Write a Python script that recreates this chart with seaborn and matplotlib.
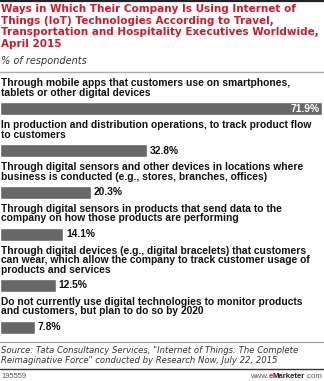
import matplotlib
matplotlib.use("Agg")
import matplotlib.pyplot as plt
import seaborn as sns
import pandas as pd
from matplotlib.lines import Line2D

categories = [
    "Through mobile apps that customers use on smartphones,\ntablets or other digital devices",
    "In production and distribution operations, to track product flow\nto customers",
    "Through digital sensors and other devices in locations where\nbusiness is conducted (e.g., stores, branches, offices)",
    "Through digital sensors in products that send data to the\ncompany on how those products are performing",
    "Through digital devices (e.g., digital bracelets) that customers\ncan wear, which allow the company to track customer usage of\nproducts and services",
    "Do not currently use digital technologies to monitor products\nand customers, but plan to do so by 2020",
]
values = [71.9, 32.8, 20.3, 14.1, 12.5, 7.8]
value_labels = ["71.9%", "32.8%", "20.3%", "14.1%", "12.5%", "7.8%"]

title = ("Ways in Which Their Company Is Using Internet of\n"
         "Things (IoT) Technologies According to Travel,\n"
         "Transportation and Hospitality Executives Worldwide,\n"
         "April 2015")
subtitle = "% of respondents"
source = ("Source: Tata Consultancy Services, \"Internet of Things: The Complete\n"
          "Reimaginative Force\" conducted by Research Now, July 22, 2015")
footer_id = "195559"

sns.set_theme(style="white")
plt.rcParams["font.family"] = ["DejaVu Sans"]

W, H = 324, 381
fig = plt.figure(figsize=(W / 100, H / 100), dpi=100)
fig.patch.set_facecolor("white")

def fy(py):
    return 1 - py / H

def fx(px):
    return px / W

RED = "#d7182a"
BAR = "#676767"
LAB_FONT = "Liberation Sans"
LAB_SIZE = 7.4

# borders
fig.add_artist(Line2D([0, 1], [fy(0.8), fy(0.8)], color="#222222", lw=1.6))
fig.add_artist(Line2D([0, 1], [fy(71.5), fy(71.5)], color="#aaaaaa", lw=1.0))
fig.add_artist(Line2D([0, 1], [fy(341.5), fy(341.5)], color="#999999", lw=0.8))
fig.add_artist(Line2D([0, 1], [fy(368.5), fy(368.5)], color="#333333", lw=1.0))

# title
fig.text(fx(1), fy(4), title, color=RED, fontsize=7.5, fontweight="bold",
         va="top", ha="left", linespacing=1.2)
fig.text(fx(1), fy(55.5), subtitle, color="#333333", fontsize=7.0, style="italic",
         va="top", ha="left")

# bars
line_h = 9.4
y = 78.5
max_v = max(values)
for i, (cat, val, lab) in enumerate(zip(categories, values, value_labels)):
    n = cat.count("\n") + 1
    fig.text(fx(1), fy(y), cat, fontsize=LAB_SIZE, fontweight="bold", color="#111111",
             family=LAB_FONT, va="top", ha="left", linespacing=0.93)
    bar_top = y + n * line_h + 5
    bar_h = 13
    ax = fig.add_axes([0, fy(bar_top + bar_h), 322 / W, bar_h / H])
    df = pd.DataFrame({"cat": [cat], "val": [val]})
    sns.barplot(data=df, x="val", y="cat", color=BAR, width=1.0, saturation=1,
                ax=ax, orient="h")
    ax.set_xlim(0, max_v)
    ax.set_axis_off()
    if val == max_v:
        ax.annotate(lab, xy=(val, 0), xytext=(-2, 0), textcoords="offset points",
                    ha="right", va="center", color="white", fontsize=LAB_SIZE,
                    fontweight="bold", family=LAB_FONT)
    else:
        ax.annotate(lab, xy=(val, 0), xytext=(2, 0), textcoords="offset points",
                    ha="left", va="center", color="#111111", fontsize=LAB_SIZE,
                    fontweight="bold", family=LAB_FONT)
    y = bar_top + bar_h + 5

# source
fig.text(fx(1), fy(346), source, color="#333333", fontsize=6.1, style="italic",
         va="top", ha="left", linespacing=1.15)
fig.text(fx(1), fy(376), footer_id, color="#555555", fontsize=5.4,
         family="Liberation Sans", va="center", ha="left")

# eMarketer footer, right aligned, built right to left
renderer = fig.canvas.get_renderer()
parts = [(".com", "#555555", "normal"), ("Marketer", "#222222", "bold"),
         ("e", RED, "bold"), ("www.", "#555555", "normal")]
xr = fx(322)
for txt, col, wt in parts:
    t = fig.text(xr, fy(376), txt, color=col, fontsize=5.6, fontweight=wt,
                 family="Liberation Sans", va="center", ha="right")
    bb = t.get_window_extent(renderer=renderer)
    xr = xr - bb.width / W

fig.savefig("out.png", dpi=100, facecolor="white")
